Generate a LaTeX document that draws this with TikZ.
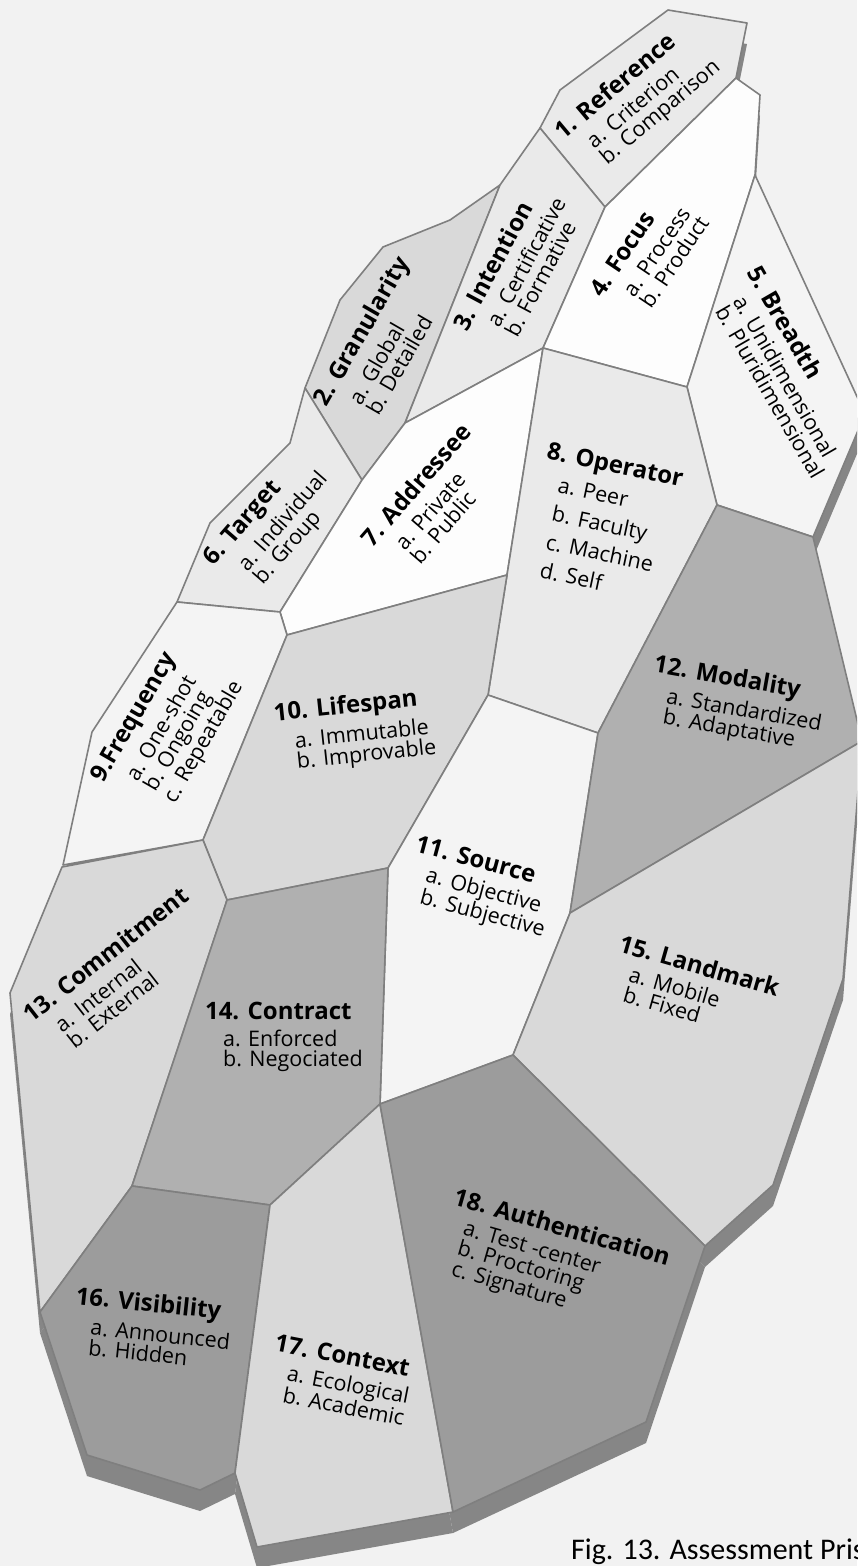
\documentclass[tikz,border=0pt]{standalone}
\usepackage{fontspec}
\setmainfont{Open Sans}
\newfontfamily\capfont{Carlito}
\definecolor{bgc}{HTML}{F2F2F2}
\definecolor{edgec}{HTML}{7F7F7F}
\definecolor{shadc}{HTML}{868686}
\definecolor{cwhite}{HTML}{FDFDFD}
\definecolor{cvlight}{HTML}{F4F4F4}
\definecolor{clight}{HTML}{EAEAEA}
\definecolor{cmid}{HTML}{D9D9D9}
\definecolor{cdark}{HTML}{B0B0B0}
\definecolor{cdarker}{HTML}{9C9C9C}
\def\polyA{(668,10) -- (747,23) -- (736,78) -- (605,207) -- (540,128) -- (560,90) -- cycle}
\def\polyB{(500,185) -- (450,220) -- (383,247) -- (340,300) -- (305,388) -- (362,480) -- (405,423) -- cycle}
\def\polyC{(540,128) -- (605,207) -- (543,348) -- (405,423) -- (500,185) -- cycle}
\def\polyD{(736,78) -- (760,95) -- (755,175) -- (687,387) -- (543,348) -- (605,207) -- cycle}
\def\polyE{(755,175) -- (865,414) -- (813,537) -- (717,505) -- (687,387) -- cycle}
\def\polyF{(305,388) -- (290,443) -- (210,523) -- (177,602) -- (280,612) -- (362,480) -- cycle}
\def\polyG{(405,423) -- (543,348) -- (507,575) -- (287,635) -- (280,612) -- (362,480) -- cycle}
\def\polyH{(543,348) -- (687,387) -- (717,505) -- (598,733) -- (488,695) -- (507,575) -- cycle}
\def\polyI{(177,602) -- (280,612) -- (287,635) -- (203,840) -- (63,865) -- (92,732) -- cycle}
\def\polyJ{(287,635) -- (507,575) -- (488,695) -- (388,868) -- (227,900) -- (203,840) -- cycle}
\def\polyK{(488,695) -- (598,733) -- (570,913) -- (513,1055) -- (380,1104) -- (388,868) -- cycle}
\def\polyL{(717,505) -- (813,537) -- (862,741) -- (570,913) -- (598,733) -- cycle}
\def\polyM{(62,867) -- (203,840) -- (227,900) -- (132,1186) -- (40,1312) -- (10,993) -- cycle}
\def\polyN{(227,900) -- (388,868) -- (380,1104) -- (270,1205) -- (132,1186) -- cycle}
\def\polyO{(862,741) -- (843,979) -- (773,1185) -- (705,1246) -- (513,1055) -- (570,913) -- cycle}
\def\polyP{(132,1186) -- (270,1205) -- (235,1473) -- (200,1490) -- (87,1455) -- (40,1312) -- cycle}
\def\polyQ{(270,1205) -- (380,1104) -- (453,1512) -- (257,1547) -- (235,1473) -- cycle}
\def\polyR{(380,1104) -- (513,1055) -- (705,1246) -- (646,1422) -- (453,1512) -- cycle}
\newcommand\ttl[1]{{\fontsize{24}{20}\selectfont\bfseries #1}}
\newcommand\ind{\hspace*{18pt}}
\begin{document}
\begin{tikzpicture}[x=1pt,y=-1pt,
  face/.style={draw=edgec, line width=1.6pt, line join=round},
  lab/.style={align=left, inner sep=0pt, text=black, font=\fontsize{21.5}{20.5}\selectfont}]
\useasboundingbox (0,0) rectangle (857,1566);
\clip (0,0) rectangle (857,1566);
\fill[bgc] (0,0) rectangle (857,1566);
% extruded side of the prism
\begin{scope}[shift={(0,21)}]
\foreach \p in {\polyA,\polyB,\polyC,\polyD,\polyE,\polyF,\polyG,\polyH,\polyI,\polyJ,\polyK,\polyL,\polyM,\polyN,\polyO,\polyP,\polyQ,\polyR}
  {\fill[shadc] \p;}
\end{scope}
% faces
\draw[face, fill=clight] \polyA;
\draw[face, fill=cmid] \polyB;
\draw[face, fill=clight] \polyC;
\draw[face, fill=cwhite] \polyD;
\draw[face, fill=cvlight] \polyE;
\draw[face, fill=clight] \polyF;
\draw[face, fill=cwhite] \polyG;
\draw[face, fill=clight] \polyH;
\draw[face, fill=cvlight] \polyI;
\draw[face, fill=cmid] \polyJ;
\draw[face, fill=cvlight] \polyK;
\draw[face, fill=cdark] \polyL;
\draw[face, fill=cmid] \polyM;
\draw[face, fill=cdark] \polyN;
\draw[face, fill=cmid] \polyO;
\draw[face, fill=cdarker] \polyP;
\draw[face, fill=cmid] \polyQ;
\draw[face, fill=cdarker] \polyR;
% labels
\node[lab, rotate=40] (n1) at (638,100) {\ttl{1. Reference}\\[6pt]\ind a. Criterion\\\ind b. Comparison};
\node[lab, rotate=60] (n2) at (382,343) {\ttl{2. Granularity}\\[6pt]\ind a. Global\\\ind b. Detailed};
\node[lab, rotate=62] (n3) at (518,268) {\ttl{3. Intention}\\[6pt]\ind a. Certificative\\\ind b. Formative};
\node[lab, rotate=56] (n4) at (649,256) {\ttl{4. Focus}\\[6pt]\ind a. Process\\\ind b. Product};
\node[lab, rotate=-60] (n5) at (787,372) {\ttl{5. Breadth}\\[6pt]\ind a. Unidimensional\\\ind b. Pluridimensional};
\node[lab, rotate=49] (n6) at (274,526) {\ttl{6. Target}\\[6pt]\ind a. Individual\\\ind b. Group};
\node[lab, rotate=49] (n7) at (434,500) {\ttl{7. Addressee}\\[6pt]\ind a. Private\\\ind b. Public};
\node[lab, rotate=-12, font=\fontsize{21.5}{29}\selectfont] (n8) at (603,522) {\ttl{8. Operator}\\[2pt]\ind a. Peer\\\ind b. Faculty\\\ind c. Machine\\\ind d. Self};
\node[lab, rotate=60] (n9) at (168,732) {\ttl{9.Frequency}\\[6pt]\ind a. One-shot\\\ind b. Ongoing\\\ind c. Repeatable};
\node[lab, rotate=6] (n10) at (355,731) {\ttl{10. Lifespan}\\[6pt]\ind a. Immutable\\\ind b. Improvable};
\node[lab, rotate=-15] (n11) at (480,888) {\ttl{11. Source}\\[6pt]\ind a. Objective\\\ind b. Subjective};
\node[lab, rotate=-10] (n12) at (736,705) {\ttl{12. Modality}\\[6pt]\ind a. Standardized\\\ind b. Adaptative};
\node[lab, rotate=38] (n13) at (120,973) {\ttl{13. Commitment}\\[6pt]\ind a. Internal\\\ind b. External};
\node[lab] (n14) at (284,1037) {\ttl{14. Contract}\\[6pt]\ind a. Enforced\\\ind b. Negociated};
\node[lab, rotate=-16] (n15) at (693,988) {\ttl{15. Landmark}\\[6pt]\ind a. Mobile\\\ind b. Fixed};
\node[lab, rotate=-6] (n16) at (152,1328) {\ttl{16. Visibility}\\[6pt]\ind a. Announced\\\ind b. Hidden};
\node[lab, rotate=-11] (n17) at (340,1380) {\ttl{17. Context}\\[6pt]\ind a. Ecological\\\ind b. Academic};
\node[lab, rotate=-16] (n18) at (552,1262) {\ttl{18. Authentication}\\[6pt]\ind a. Test -center\\\ind b. Proctoring\\\ind c. Signature};
\node[anchor=base west, inner sep=0pt, font=\capfont\fontsize{30}{32}\selectfont] (cap) at (571,1559) {Fig. 13. Assessment Prism};
\end{tikzpicture}
\end{document}
